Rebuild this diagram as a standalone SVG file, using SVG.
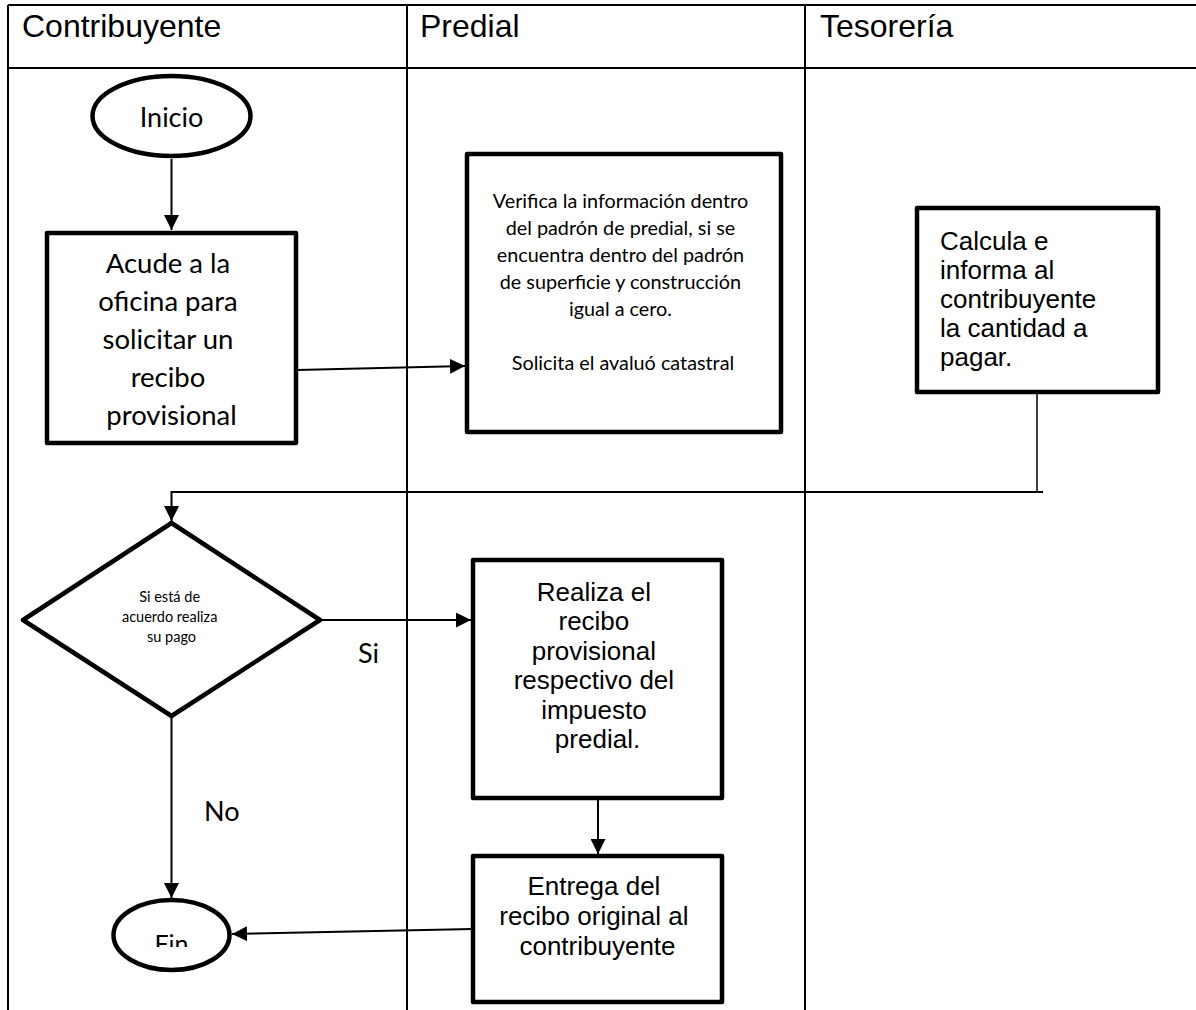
<svg xmlns="http://www.w3.org/2000/svg" width="1196" height="1010" viewBox="0 0 1196 1010">
<style>
.grid{stroke:#000;stroke-width:2;fill:none}
.box{fill:#fff;stroke:#000;stroke-width:4.5;stroke-linejoin:round}
.con{stroke:#000;stroke-width:2;fill:none}
.hdr{font-family:"Liberation Sans",Arial,sans-serif;font-size:32px;fill:#000}
.ar{font-family:"Liberation Sans",Arial,sans-serif;font-size:26px;fill:#000}
.cal{font-family:Lato,"Noto Sans",sans-serif;fill:#000}
</style>
<defs>
<marker id="ah" markerWidth="15" markerHeight="15" refX="15" refY="7.5" orient="auto" markerUnits="userSpaceOnUse"><path d="M0,0 L15,7.5 L0,15 z" fill="#000"/></marker>
<clipPath id="finclip"><rect x="110" y="900" width="125" height="47"/></clipPath>
</defs>
<rect width="1196" height="1010" fill="#fff"/>
<g id="lanes">
<path class="grid" d="M8,5 H1196 M8,68 H1196 M8,5 V1010 M407,5 V1010 M805,5 V1010"/>
<text class="hdr" x="22" y="37">Contribuyente</text>
<text class="hdr" x="420" y="37">Predial</text>
<text class="hdr" x="820" y="37">Tesorería</text>
</g>
<g id="connectors">
<path class="con" d="M171.5,159 V230" marker-end="url(#ah)"/>
<path class="con" d="M297,370 L465,366" marker-end="url(#ah)"/>
<path d="M1037,392 V492" stroke="#000" stroke-width="1.5" fill="none"/>
<path class="con" d="M1043,492 H171.5 V521" marker-end="url(#ah)"/>
<path class="con" d="M321,620 H471" marker-end="url(#ah)"/>
<path class="con" d="M171.5,718 V898" marker-end="url(#ah)"/>
<path class="con" d="M598,799 V854" marker-end="url(#ah)"/>
<path class="con" d="M473,929 L232,934" marker-end="url(#ah)"/>
<text class="cal" x="358" y="663" font-size="27">Si</text>
<text class="cal" x="204" y="821" font-size="27">No</text>
</g>
<g id="inicio">
<ellipse class="box" cx="171.5" cy="116" rx="79" ry="40"/>
<text class="cal" x="171.5" y="127" font-size="27" text-anchor="middle">Inicio</text>
</g>
<g id="acude">
<rect class="box" x="47" y="233" width="249" height="210"/>
<text class="cal" font-size="27.5" text-anchor="middle">
<tspan x="171.5" y="273">Acude a la</tspan>
<tspan x="171.5" y="311">oficina para</tspan>
<tspan x="171.5" y="349">solicitar un</tspan>
<tspan x="171.5" y="387">recibo</tspan>
<tspan x="171.5" y="425">provisional</tspan>
</text>
</g>
<g id="verifica">
<rect class="box" x="467" y="154" width="314" height="278"/>
<text class="cal" font-size="19.8" text-anchor="middle">
<tspan x="623" y="208">Verifica la información dentro</tspan>
<tspan x="623" y="235">del padrón de predial, si se</tspan>
<tspan x="623" y="262">encuentra dentro del padrón</tspan>
<tspan x="623" y="289">de superficie y construcción</tspan>
<tspan x="623" y="316">igual a cero.</tspan>
<tspan x="623" y="370">Solicita el avaluó catastral</tspan>
</text>
</g>
<g id="calcula">
<rect class="box" x="917" y="208" width="241" height="184"/>
<text class="ar">
<tspan x="940" y="250">Calcula e</tspan>
<tspan x="940" y="279">informa al</tspan>
<tspan x="940" y="308">contribuyente</tspan>
<tspan x="940" y="337">la cantidad a</tspan>
<tspan x="940" y="366">pagar.</tspan>
</text>
</g>
<g id="decision">
<path class="box" d="M171.5,523 L320,620 L171.5,716 L23,620 Z"/>
<text class="cal" font-size="14.5" text-anchor="middle">
<tspan x="171.5" y="602">Si está de</tspan>
<tspan x="171.5" y="622">acuerdo realiza</tspan>
<tspan x="171.5" y="642">su pago</tspan>
</text>
</g>
<g id="realiza">
<rect class="box" x="473" y="560" width="249" height="238"/>
<text class="ar" text-anchor="middle">
<tspan x="597.5" y="601">Realiza el</tspan>
<tspan x="597.5" y="630">recibo</tspan>
<tspan x="597.5" y="660">provisional</tspan>
<tspan x="597.5" y="689">respectivo del</tspan>
<tspan x="597.5" y="719">impuesto</tspan>
<tspan x="597.5" y="748">predial.</tspan>
</text>
</g>
<g id="entrega">
<rect class="box" x="473" y="856" width="249" height="146"/>
<text class="ar" text-anchor="middle">
<tspan x="597.5" y="895">Entrega del</tspan>
<tspan x="597.5" y="925">recibo original al</tspan>
<tspan x="597.5" y="955">contribuyente</tspan>
</text>
</g>
<g id="fin">
<ellipse class="box" cx="171.5" cy="935" rx="58" ry="35"/>
<text class="cal" x="171.5" y="953" font-size="25" text-anchor="middle" clip-path="url(#finclip)">Fin</text>
</g>
</svg>
